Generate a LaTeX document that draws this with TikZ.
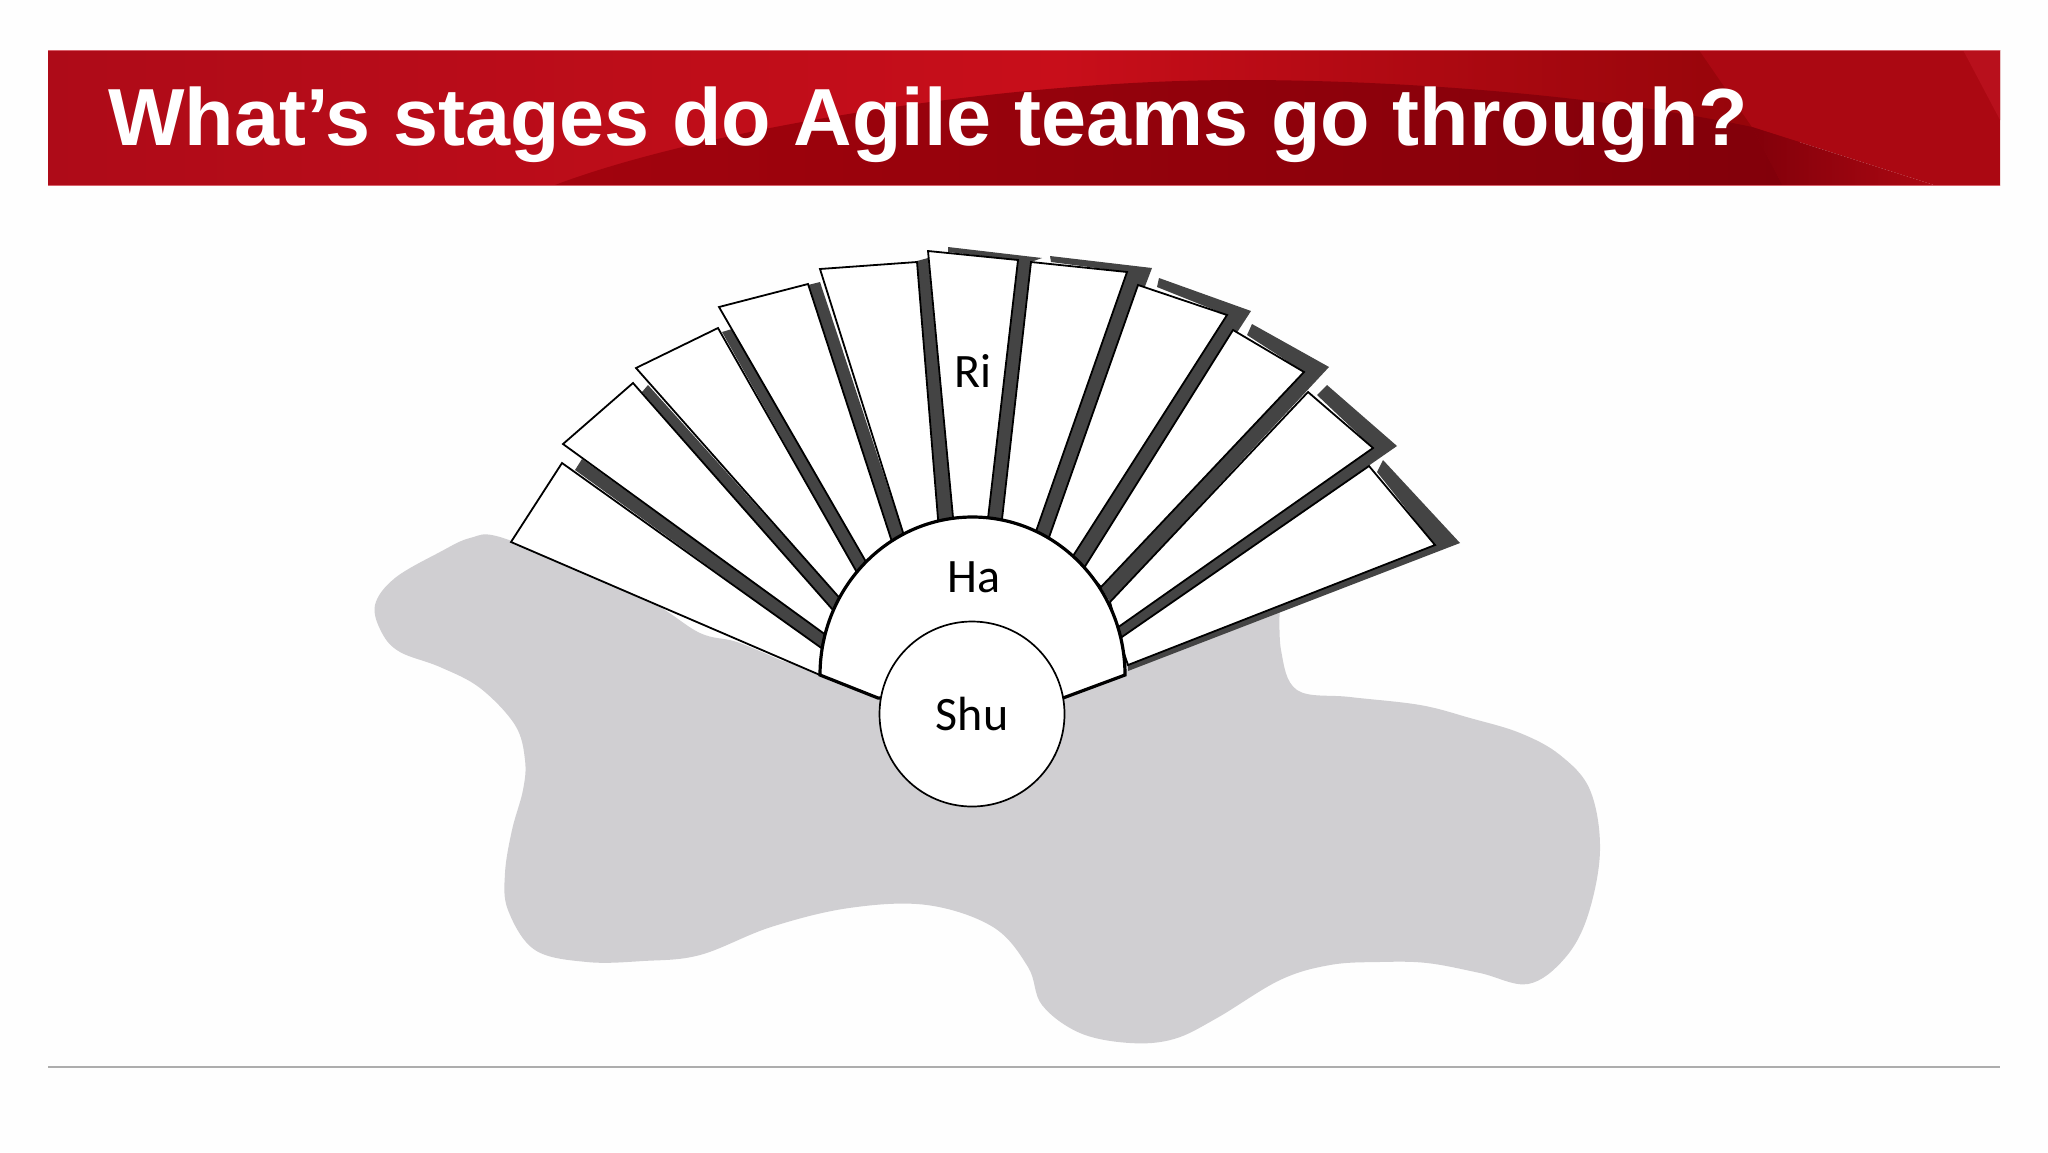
\documentclass[tikz,border=0pt]{standalone}
\usepackage{fontspec}
\setmainfont{Liberation Sans}
\newfontfamily\handfont{Carlito}
\definecolor{blobgrey}{HTML}{D0CFD2}
\definecolor{bandgrey}{HTML}{444444}
\definecolor{redmid}{HTML}{C80E1A}
\definecolor{redleft}{HTML}{AE0B18}
\definecolor{redright}{HTML}{930409}
\definecolor{redpanel}{HTML}{AB0812}
\definecolor{redswoosh}{HTML}{A2030D}
\definecolor{reddeep}{HTML}{82000A}
\definecolor{redcorner}{HTML}{B8101C}
\definecolor{rededge}{HTML}{D8606A}
\tikzset{
  blade/.style={draw=black, fill=white, line width=.9pt, line join=miter},
  band/.style={fill=bandgrey},
  stage/.style={font=\handfont\fontsize{24}{24}\selectfont},
}
\begin{document}
\begin{tikzpicture}[x=.5pt, y=-.5pt]
\useasboundingbox (0,0) rectangle (2048,1152);
\fill[white!99.5!black] (0,0) rectangle (2048,1152);
% header
\begin{scope}
\clip (48,50) rectangle (2000,185);
\shade[left color=redleft, right color=redmid] (48,50) rectangle (1060,185);
\shade[left color=redmid, right color=redright] (1060,50) rectangle (1800,185);
\shade[left color=redswoosh, right color=reddeep] (555,185) .. controls (700,130) and (1000,80) .. (1240,80) .. controls (1400,80) and (1600,95) .. (1752,127) -- (1785,190) -- (555,190) -- cycle;
\fill[redpanel] (1699,50) -- (2000,50) -- (2000,190) -- (1934,190) -- (1934,185) -- (1752,127) -- cycle;
\shade[left color=reddeep, right color=redpanel] (1752,127) -- (1934,185) -- (1934,190) -- (1785,190) -- cycle;
\fill[redcorner] (1963,50) -- (2000,50) -- (2000,120) -- cycle;
\end{scope}
\draw[rededge, line width=.5pt] (48,50.5) -- (2000,50.5);
\draw[rededge, line width=.5pt] (48,185) -- (2000,185);
\node[anchor=base west, inner sep=0, text=white, font=\bfseries\fontsize{40.5}{40.5}\selectfont] (title) at (108,145) {What’s stages do Agile teams go through?};
\draw[black!32, line width=.6pt] (48,1067) -- (2000,1067);
% grey shape
\fill[blobgrey] plot[smooth, tension=.6] coordinates {
  (1280,600) (1281,650) (1297,690) (1350,697) (1420,705) (1470,718)
  (1520,733) (1560,755) (1590,790) (1600,850) (1588,915) (1565,958)
  (1528,984) (1480,973) (1427,963) (1379,962) (1330,965) (1280,980)
  (1217,1018) (1174,1039) (1130,1043) (1080,1033) (1042,1005) (1028,967)
  (993,927) (927,905) (849,908) (771,927) (700,955) (643,961) (587,962)
  (535,950) (508,910) (505,873) (512,830) (523,790) (525,760) (515,725)
  (480,688) (440,667) (400,652) (382,633) (375,605) (395,578)
  (440,552) (470,538) (500,537) (580,570) (653,603) (700,633) (737,642) (780,660)
} -- (972,720) -- cycle;
% shadows of the blades
\foreach \ax/\ay/\bx/\by/\cx/\cy/\dx/\dy in {
  582/459/830/638/827/652/575/470,
  648/385/844/603/840/618/642/392,
  732/329/869/567/859/576/722/332,
  820/282/906/542/894/548/808/285,
  928/258/954/528/939/531/917/261} {
  \fill[band] (\ax,\ay) -- (\bx,\by) -- (\cx,\cy) -- (\dx,\dy) -- cycle;
}
\fill[band] (948,247) -- (1042,258) -- (1031,262) -- (1001,528) -- (987,527) -- (1018,260) -- (948,252) -- cycle;
\fill[band] (1050,256) -- (1152,268) -- (1047,543) -- (1034,537) -- (1127,272) -- (1051,262) -- cycle;
\fill[band] (1159,278) -- (1251,311) -- (1084,568) -- (1073,556) -- (1227,315) -- (1157,287) -- cycle;
\fill[band] (1252,324) -- (1329,367) -- (1110,602) -- (1101,587) -- (1304,372) -- (1247,335) -- cycle;
\fill[band] (1327,385) -- (1397,446) -- (1119,639) -- (1117,628) -- (1373,448) -- (1317,395) -- cycle;
\fill[band] (1383,460) -- (1460,543) -- (1128,671) -- (1128,665) -- (1435,545) -- (1377,472) -- cycle;
% blades
\foreach \ax/\ay/\bx/\by/\cx/\cy/\dx/\dy in {
  511/542/562/463/827/652/820/675,
  563/444/633/383/840/618/830/638,
  636/368/718/328/859/576/844/603,
  719/307/808/284/894/548/869/567,
  820/269/917/262/939/531/906/542,
  928/251/1018/260/987/527/954/528,
  1031/262/1127/272/1034/537/1001/528,
  1138/285/1227/315/1073/556/1047/543,
  1233/330/1304/372/1101/587/1084/568,
  1308/392/1373/448/1117/628/1110/602,
  1369/466/1435/545/1128/665/1119/639} {
  \draw[blade] (\ax,\ay) -- (\bx,\by) -- (\cx,\cy) -- (\dx,\dy) -- cycle;
}
% Ha
\draw[black, fill=white, line width=1.6pt] (820,675) arc[start angle=180, end angle=0, x radius=152.5, y radius=-158] -- (1063,698) -- (878,698) -- cycle;
\node[circle, draw=black, fill=white, line width=.85pt, minimum size=92.5pt, inner sep=0, stage] (shu) at (972,714) {Shu};
\node[stage] (ha) at (974,577) {Ha};
\node[stage] (ri) at (973,371) {Ri};
\end{tikzpicture}
\end{document}
